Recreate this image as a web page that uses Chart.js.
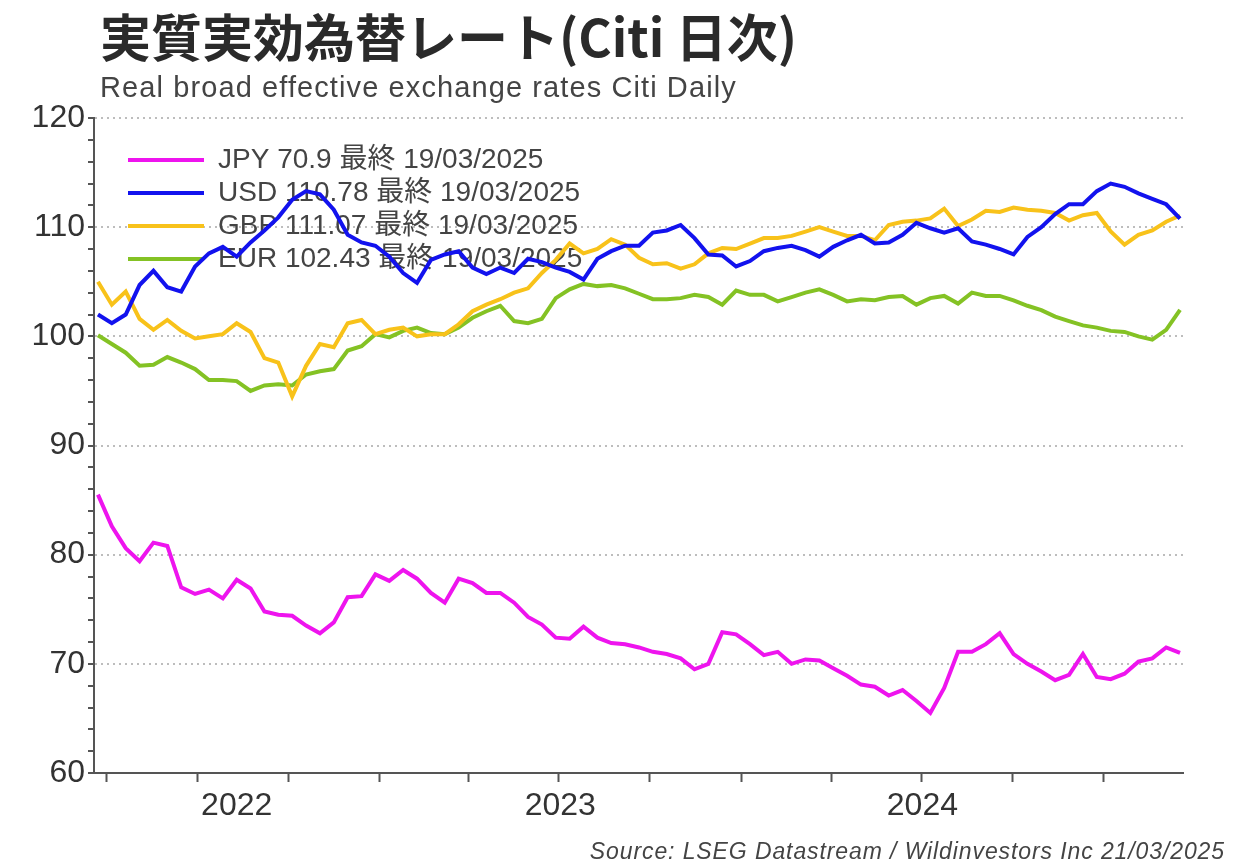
<!DOCTYPE html>
<html lang="ja">
<head>
  <meta charset="UTF-8" />
  <title>実質実効為替レート(Citi 日次)</title>
  <script src="https://cdn.jsdelivr.net/npm/chart.js"></script>
  <style>
    body { margin: 0; background: #fff; }
    .wrap { position: relative; width: 1242px; height: 865px; font-family: 'Liberation Sans', 'Noto Sans CJK JP', sans-serif; }
    .wrap canvas { position: absolute; left: 0; top: 0; }
    .title { position: absolute; left: 100px; top: 5px; font-family: 'Noto Sans CJK JP', sans-serif; font-weight: 700; font-size: 51px; line-height: 1.2; color: #2a2a2a; white-space: nowrap; }
    .subtitle { position: absolute; left: 100px; top: 70px; font-size: 29px; letter-spacing: 1.1px; line-height: 1.2; color: #444; white-space: nowrap; }
    .source { position: absolute; right: 17px; top: 838px; font-size: 23px; letter-spacing: 0.9px; line-height: 1.2; font-style: italic; color: #444; white-space: nowrap; }
  </style>
</head>
<body>
  <div class="wrap">
    <canvas id="rateChart" width="1242" height="865"></canvas>
    <div class="title">実質実効為替レート(Citi 日次)</div>
    <div class="subtitle">Real broad effective exchange rates Citi Daily</div>
    <div class="source">Source: LSEG Datastream / Wildinvestors Inc 21/03/2025</div>
  </div>

  <script>
    // biweekly observations, 23/03/2022 .. 19/03/2025
    const firstDate = Date.UTC(2022, 2, 23);
    const stepDays = 14;

    const jpy = [85.5, 82.6, 80.6, 79.4, 81.1, 80.8, 77.0, 76.4, 76.8, 76.0,
      77.7, 76.9, 74.8, 74.5, 74.4, 73.5, 72.8, 73.8, 76.1, 76.2,
      78.2, 77.6, 78.6, 77.8, 76.5, 75.6, 77.8, 77.4, 76.5, 76.5,
      75.6, 74.3, 73.6, 72.4, 72.3, 73.4, 72.4, 71.9, 71.8, 71.5,
      71.1, 70.9, 70.5, 69.5, 70.0, 72.9, 72.7, 71.8, 70.8, 71.1,
      70.0, 70.4, 70.3, 69.6, 68.9, 68.1, 67.9, 67.1, 67.6, 66.6,
      65.5, 67.8, 71.1, 71.1, 71.8, 72.8, 70.9, 70.0, 69.3, 68.5,
      69.0, 70.9, 68.8, 68.6, 69.1, 70.2, 70.5, 71.5, 71.0];

    const usd = [102.0, 101.2, 102.0, 104.7, 106.0, 104.5, 104.1, 106.4, 107.6, 108.2,
      107.3, 108.6, 109.7, 110.9, 112.5, 113.3, 113.0, 111.6, 109.3, 108.6,
      108.3, 107.3, 105.8, 104.9, 107.0, 107.5, 107.8, 106.3, 105.7, 106.3,
      105.8, 107.1, 106.8, 106.3, 105.9, 105.2, 107.1, 107.8, 108.3, 108.3,
      109.5, 109.7, 110.2, 109.0, 107.5, 107.4, 106.4, 106.9, 107.8, 108.1,
      108.3, 107.9, 107.3, 108.2, 108.8, 109.3, 108.5, 108.6, 109.3, 110.4,
      109.9, 109.5, 109.9, 108.7, 108.4, 108.0, 107.5, 109.1, 110.0, 111.2,
      112.1, 112.1, 113.3, 114.0, 113.7, 113.1, 112.6, 112.1, 110.78];

    const gbp = [105.0, 102.9, 104.1, 101.6, 100.6, 101.5, 100.5, 99.8, 100.0, 100.2,
      101.2, 100.4, 98.0, 97.6, 94.5, 97.3, 99.3, 99.0, 101.2, 101.5,
      100.2, 100.6, 100.8, 100.0, 100.2, 100.2, 101.1, 102.3, 102.9, 103.4,
      104.0, 104.4, 105.8, 107.0, 108.5, 107.6, 108.0, 108.9, 108.4, 107.2,
      106.6, 106.7, 106.2, 106.6, 107.6, 108.1, 108.0, 108.5, 109.0, 109.0,
      109.2, 109.6, 110.0, 109.6, 109.2, 109.2, 108.8, 110.2, 110.5, 110.6,
      110.8, 111.7, 110.1, 110.7, 111.5, 111.4, 111.8, 111.6, 111.5, 111.3,
      110.6, 111.1, 111.3, 109.6, 108.4, 109.3, 109.7, 110.5, 111.07];

    const eur = [100.1, 99.3, 98.5, 97.3, 97.4, 98.1, 97.6, 97.0, 96.0, 96.0,
      95.9, 95.0, 95.5, 95.6, 95.5, 96.5, 96.8, 97.0, 98.7, 99.1,
      100.2, 99.9, 100.5, 100.8, 100.3, 100.2, 100.8, 101.7, 102.3, 102.8,
      101.4, 101.2, 101.6, 103.5, 104.3, 104.8, 104.6, 104.7, 104.4, 103.9,
      103.4, 103.4, 103.5, 103.8, 103.6, 102.9, 104.2, 103.8, 103.8, 103.2,
      103.6, 104.0, 104.3, 103.8, 103.2, 103.4, 103.3, 103.6, 103.7, 102.9,
      103.5, 103.7, 103.0, 104.0, 103.7, 103.7, 103.3, 102.8, 102.4, 101.8,
      101.4, 101.0, 100.8, 100.5, 100.4, 100.0, 99.7, 100.6, 102.43];

    const seriesNames = ["JPY 70.9 最終 19/03/2025", "USD 110.78 最終 19/03/2025",
      "GBP 111.07 最終 19/03/2025", "EUR 102.43 最終 19/03/2025"];
    const seriesColors = ["#ee14ee", "#1212ee", "#f8c21a", "#84c224"];

    const yearLabels = ["2022", "2023", "2024"];
    const yLabels = [60, 70, 80, 90, 100, 110, 120];

    const DAY = 86400000;
    const dates = jpy.map((_, i) => firstDate + i * stepDays * DAY);
    const xMin = Date.UTC(2022, 2, 19);
    const xMax = Date.UTC(2025, 2, 22);

    // quarter tick marks and year label positions (middle of the visible part of each year)
    const quarterTicks = [];
    for (let y = 2022; y <= 2025; y++) {
      for (let m = 0; m < 12; m += 3) {
        const t = Date.UTC(y, m, 1);
        if (t > xMin && t < xMax) quarterTicks.push(t);
      }
    }
    const yearMids = yearLabels.map(s => {
      const a = Math.max(Date.UTC(+s, 0, 1), xMin);
      const b = Math.min(Date.UTC(+s + 1, 0, 1), xMax);
      return (a + b) / 2;
    });

    const family = "'Liberation Sans', 'Noto Sans CJK JP', sans-serif";

    const datasets = [jpy, usd, gbp, eur].map((vals, k) => ({
      label: seriesNames[k],
      data: vals.map((v, i) => ({ x: dates[i], y: v })),
      borderColor: seriesColors[k],
      backgroundColor: seriesColors[k],
      borderWidth: 4,
      pointRadius: 0,
      tension: 0
    }));

    // put the legend inside the plot, a bit away from the corner
    const legendShift = {
      id: 'legendShift',
      afterLayout(chart) {
        chart.legend.left = chart.chartArea.left + 29;
        chart.legend.top = chart.chartArea.top + 23;
      }
    };

    new Chart(document.getElementById("rateChart"), {
      type: "line",
      data: { datasets },
      plugins: [legendShift],
      options: {
        responsive: false,
        animation: false,
        devicePixelRatio: 1,
        layout: { padding: { top: 118, right: 59, bottom: 40, left: 0 } },
        plugins: {
          tooltip: { enabled: false },
          legend: {
            position: "chartArea",
            align: "start",
            labels: {
              usePointStyle: true,
              pointStyle: "line",
              pointStyleWidth: 76,
              padding: 5,
              color: "#444",
              font: { size: 28, family }
            }
          }
        },
        scales: {
          x: {
            type: "linear",
            min: xMin,
            max: xMax,
            afterBuildTicks: s => { s.ticks = quarterTicks.concat(yearMids).sort((a, b) => a - b).map(v => ({ value: v })); },
            afterFit: s => { s.height = 52; },
            grid: {
              drawOnChartArea: false,
              tickLength: 9,
              tickWidth: 2,
              tickColor: c => (c.tick && yearMids.includes(c.tick.value)) ? "rgba(0,0,0,0)" : "#555"
            },
            border: { color: "#555", width: 2 },
            ticks: {
              autoSkip: false,
              maxRotation: 0,
              padding: 5,
              color: "#333",
              font: { size: 32, family },
              callback: v => { const k = yearMids.indexOf(v); return k >= 0 ? yearLabels[k] : ""; }
            }
          },
          y: {
            min: 60,
            max: 120,
            afterBuildTicks: s => {
              const t = [];
              for (let v = yLabels[0]; v <= yLabels[yLabels.length - 1]; v += 2) t.push({ value: v });
              s.ticks = t;
            },
            afterFit: s => { s.width = 94; },
            grid: {
              color: c => (c.tick && yLabels.includes(c.tick.value) && c.tick.value > 60) ? "#bdbdbd" : "rgba(0,0,0,0)",
              lineWidth: 2,
              tickLength: 6,
              tickWidth: 2,
              tickColor: "#555"
            },
            border: { color: "#555", width: 2, dash: [2, 4] },
            ticks: {
              autoSkip: false,
              padding: 3,
              color: "#333",
              font: { size: 32, family },
              callback: v => yLabels.includes(v) ? v : ""
            }
          }
        }
      }
    });
  </script>
</body>
</html>
